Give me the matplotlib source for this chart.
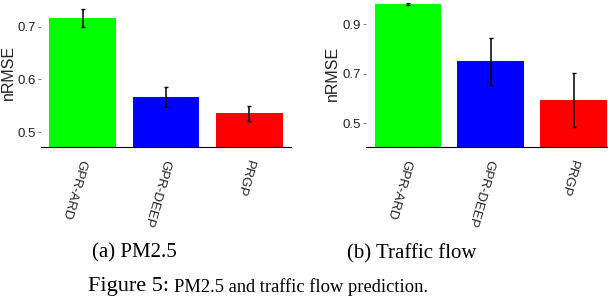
import matplotlib
matplotlib.use("Agg")
import matplotlib.pyplot as plt

methods = ["GPR-ARD", "GPR-DEEP", "PRGP"]
colors = ["#00ff00", "#0000ff", "#ff0000"]

pm_values = [0.716, 0.567, 0.536]
pm_errors = [0.017, 0.019, 0.014]
pm_ticks = [0.5, 0.6, 0.7]

tf_values = [0.982, 0.750, 0.595]
tf_errors = [0.003, 0.094, 0.110]
tf_ticks = [0.5, 0.7, 0.9]

captions = ["(a) PM2.5", "(b) Traffic flow"]
figure_label = "Figure 5:"
figure_caption = "PM2.5 and traffic flow prediction."

fig = plt.figure(figsize=(6.08, 3.08), dpi=100)

sans = "Liberation Sans"
serif = "Liberation Serif"


def draw(ax, vals, errs, ticks, ylim, label_pos):
    x = list(range(len(methods)))
    ax.bar(x, vals, width=0.8, color=colors, zorder=1)
    ax.errorbar(x, vals, yerr=errs, fmt="none", ecolor="black",
                elinewidth=1.1, capsize=1.3, capthick=1.0, zorder=2)
    ax.set_xlim(-0.5, len(methods) - 0.5)
    ax.set_ylim(*ylim)
    ax.set_yticks(ticks)
    ax.set_yticklabels([f"{t:.1f}" for t in ticks], fontfamily=sans,
                       fontsize=9.5, color="#222222")
    ax.set_xticks(x)
    ax.set_xticklabels(methods, fontfamily=sans, fontsize=9.5, color="#222222",
                       rotation=254, ha="left", va="center",
                       rotation_mode="anchor")
    ax.tick_params(axis="x", length=0, pad=9)
    ax.tick_params(axis="y", length=2, width=0.6, color="#666666", pad=2)
    for s in ["top", "right", "left"]:
        ax.spines[s].set_visible(False)
    ax.spines["bottom"].set_linewidth(0.8)
    ax.spines["bottom"].set_color("black")
    ax.set_ylabel("nRMSE", fontfamily=sans, fontsize=11.5, color="#222222")
    ax.yaxis.set_label_coords(*label_pos)


ax1 = fig.add_axes([41 / 608, 1 - 147 / 308, 250 / 608, 142 / 308])
draw(ax1, pm_values, pm_errors, pm_ticks, (0.472, 0.741), (-0.10, 0.523))

ax2 = fig.add_axes([366.3 / 608, 1 - 147 / 308, 248.7 / 608, 144 / 308])
draw(ax2, tf_values, tf_errors, tf_ticks, (0.404, 0.986), (-0.105, 0.509))

fig.text(134 / 608, 1 - 253.3 / 308, captions[0], fontfamily=serif,
         fontsize=15, ha="center", va="center", color="black")
fig.text(411.7 / 608, 1 - 253.3 / 308, captions[1], fontfamily=serif,
         fontsize=15, ha="center", va="center", color="black")
fig.text(88 / 608, 1 - 287 / 308, figure_label, fontfamily=serif,
         fontsize=16, ha="left", va="center", color="black")
fig.text(174 / 608, 1 - 287 / 308, figure_caption, fontfamily=serif,
         fontsize=13.3, ha="left", va="center", color="black")

fig.savefig("out.png", dpi=100)
